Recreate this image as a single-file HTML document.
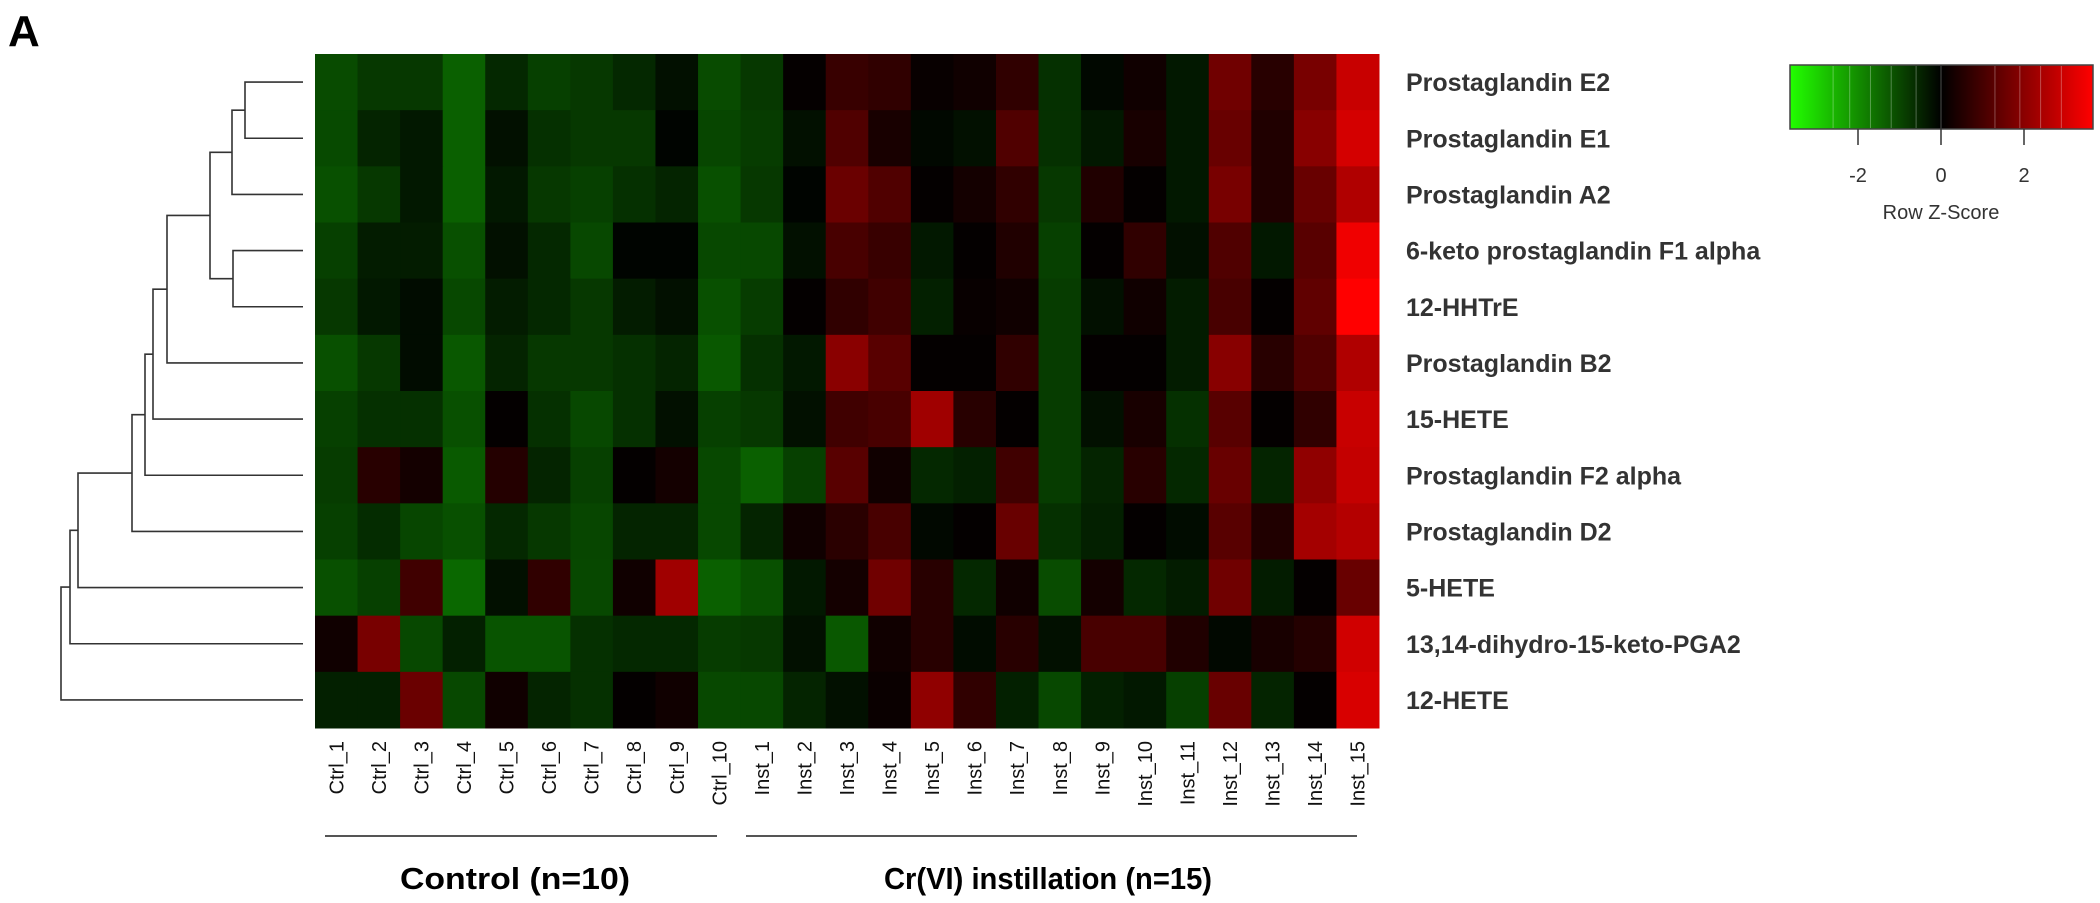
<!DOCTYPE html>
<html><head><meta charset="utf-8"><style>
html,body{margin:0;padding:0;background:#fff;}
svg{display:block;font-family:"Liberation Sans",Arial,sans-serif;}
</style></head><body>
<svg id="chart" width="2100" height="903" viewBox="0 0 2100 903" xmlns="http://www.w3.org/2000/svg">
<text x="8" y="46" font-size="44" font-weight="bold" fill="#000">A</text>
<g id="dendro"></g>
<g id="cells"></g>
<g id="rowlabels"></g>
<g id="collabels"></g>
<g>
<line x1="325" y1="836" x2="717" y2="836" stroke="#555" stroke-width="2"/>
<line x1="746" y1="836" x2="1357" y2="836" stroke="#555" stroke-width="2"/>
<text x="400" y="889" font-size="31" font-weight="bold" textLength="230" lengthAdjust="spacingAndGlyphs">Control (n=10)</text>
<text x="884" y="889" font-size="31" font-weight="bold" textLength="328" lengthAdjust="spacingAndGlyphs">Cr(VI)  instillation  (n=15)</text>
</g>
<g id="legend">
<defs><linearGradient id="grad" x1="0" x2="1" y1="0" y2="0">
<stop offset="0" stop-color="#22ff00"/><stop offset="0.5" stop-color="#000"/><stop offset="1" stop-color="#ff0000"/></linearGradient></defs>
<rect x="1790" y="65" width="303" height="64" fill="url(#grad)" stroke="#444" stroke-width="1.5"/>
</g>
</svg>
<script>
const rowNames=["Prostaglandin E2","Prostaglandin E1","Prostaglandin A2","6-keto prostaglandin F1 alpha","12-HHTrE","Prostaglandin B2","15-HETE","Prostaglandin F2 alpha","Prostaglandin D2","5-HETE","13,14-dihydro-15-keto-PGA2","12-HETE"];
const colNames=["Ctrl_1","Ctrl_2","Ctrl_3","Ctrl_4","Ctrl_5","Ctrl_6","Ctrl_7","Ctrl_8","Ctrl_9","Ctrl_10","Inst_1","Inst_2","Inst_3","Inst_4","Inst_5","Inst_6","Inst_7","Inst_8","Inst_9","Inst_10","Inst_11","Inst_12","Inst_13","Inst_14","Inst_15"];
const zPGE2=[-1.0,-0.75,-0.75,-1.28,-0.53,-0.85,-0.75,-0.53,-0.21,-1.0,-0.75,0.07,0.75,0.64,0.11,0.21,0.64,-0.64,-0.11,0.21,-0.32,1.49,0.53,1.6,2.67];
const zPGE1=[-0.99,-0.48,-0.32,-1.28,-0.21,-0.64,-0.75,-0.75,-0.05,-0.93,-0.8,-0.21,1.07,0.32,-0.11,-0.21,1.07,-0.64,-0.32,0.32,-0.32,1.39,0.43,1.81,2.83];
const zPGA2=[-1.07,-0.75,-0.32,-1.28,-0.32,-0.75,-0.85,-0.64,-0.48,-1.07,-0.75,-0.05,1.41,1.07,0.05,0.27,0.64,-0.75,0.43,0.05,-0.32,1.6,0.43,1.39,2.35];
const z6keto=[-0.85,-0.37,-0.37,-1.07,-0.21,-0.53,-0.96,-0.05,-0.05,-0.96,-0.96,-0.21,0.96,0.75,-0.32,0.05,0.43,-0.85,0.05,0.64,-0.21,1.07,-0.32,1.17,3.2];
const zHHTrE=[-0.75,-0.32,-0.16,-0.96,-0.37,-0.53,-0.75,-0.37,-0.21,-1.07,-0.8,0.05,0.64,0.85,-0.43,0.11,0.21,-0.8,-0.21,0.21,-0.37,0.96,0.05,1.28,3.4];
const zPGB2=[-1.07,-0.75,-0.16,-1.17,-0.48,-0.75,-0.75,-0.64,-0.48,-1.17,-0.64,-0.32,1.84,1.17,0.05,0.05,0.64,-0.8,0.05,0.05,-0.37,1.81,0.53,1.07,2.35];
const z15HETE=[-0.85,-0.64,-0.64,-1.07,0.05,-0.64,-0.96,-0.64,-0.21,-0.85,-0.75,-0.21,0.85,0.96,2.13,0.53,0.05,-0.8,-0.21,0.32,-0.64,1.17,0.05,0.64,2.67];
const zPGF2a=[-0.8,0.53,0.27,-1.2,0.48,-0.48,-0.85,0.05,0.27,-0.96,-1.28,-0.85,1.17,0.21,-0.53,-0.43,0.85,-0.8,-0.48,0.53,-0.53,1.39,-0.48,1.92,2.61];
const zPGD2=[-0.85,-0.59,-0.93,-1.07,-0.53,-0.75,-0.93,-0.48,-0.48,-0.96,-0.48,0.21,0.56,0.96,-0.11,0.05,1.39,-0.64,-0.43,0.05,-0.16,1.17,0.43,2.19,2.4];
const z5HETE=[-1.07,-0.85,0.85,-1.39,-0.21,0.64,-0.96,0.21,2.13,-1.28,-1.07,-0.32,0.27,1.49,0.53,-0.53,0.21,-1.01,0.27,-0.53,-0.37,1.49,-0.37,0.05,1.39];
const zPGA2keto=[0.21,1.6,-0.96,-0.43,-1.12,-1.12,-0.64,-0.53,-0.53,-0.8,-0.75,-0.21,-1.17,0.21,0.53,-0.16,0.53,-0.21,0.96,0.96,0.43,-0.11,0.32,0.48,2.77];
const z12HETE=[-0.43,-0.43,1.41,-0.96,0.21,-0.48,-0.64,0.05,0.21,-0.96,-0.96,-0.48,-0.21,0.13,1.92,0.64,-0.43,-0.96,-0.43,-0.32,-0.85,1.39,-0.48,0.05,2.88];
const zRows=[zPGE2,zPGE1,zPGA2,z6keto,zHHTrE,zPGB2,z15HETE,zPGF2a,zPGD2,z5HETE,zPGA2keto,z12HETE];
const legendTicks=[-2,0,2];
// dendrogram merges: [left, right, height]; leaves 0..11, internal nodes 12..
const merges=[[0,1,245],[12,2,232],[3,4,233],[13,14,210],[15,5,167],[16,6,153],[17,7,145],[18,8,132],[19,9,78],[20,10,70],[21,11,61]];

const NS="http://www.w3.org/2000/svg";
const X0=315,X1=1379,Y0=54,Y1=728;
const cw=(X1-X0)/colNames.length, rh=(Y1-Y0)/rowNames.length;
const xCol=i=>X0+i*cw, yRow=j=>Y0+j*rh;
function mk(t,a,p){const e=document.createElementNS(NS,t);for(const k in a)e.setAttribute(k,a[k]);p.appendChild(e);return e;}
function color(z){const v=Math.min(255,Math.round(Math.abs(z)*75));return z<0?`rgb(${Math.round(v*0.1)},${v},0)`:`rgb(${v},0,0)`;}
const cells=document.getElementById('cells');
zRows.forEach((row,j)=>row.forEach((z,i)=>{
  const r=mk('rect',{x:xCol(i),y:yRow(j),width:cw+0.5,height:rh+0.5,fill:color(z)},cells);
  
  
}));
const rl=document.getElementById('rowlabels');
rowNames.forEach((n,j)=>{
  const t=mk('text',{x:1406,y:yRow(j)+rh/2+9,'font-size':25,'font-weight':'bold',fill:'#333'},rl);
  t.textContent=n;
  
  
});
const cl=document.getElementById('collabels');
colNames.forEach((n,i)=>{
  const cx=xCol(i)+cw/2+7;
  const t=mk('text',{x:cx,y:741,'font-size':20,'text-anchor':'end',fill:'#111',transform:`rotate(-90 ${cx} 741)`},cl);
  t.textContent=n;
  
  
});
const dg=document.getElementById('dendro');
const nodes=[];for(let j=0;j<rowNames.length;j++)nodes.push({x:303,y:yRow(j)+rh/2});
merges.forEach(([a,b,h])=>{
  const A=nodes[a],B=nodes[b];
  const p=mk('path',{d:`M${A.x},${A.y}H${h}V${B.y}H${B.x}`,fill:'none',stroke:'#333','stroke-width':1.6},dg);
  
  
  nodes.push({x:h,y:(A.y+B.y)/2});
});
const lg=document.getElementById('legend');
const lx=z=>1941+z*41.5;
[-2.6,-2.2,-1.7,-1.2,-0.6,0,1.3,1.9,2.4,2.9].forEach(z=>{
  const l=mk('line',{x1:lx(z),x2:lx(z),y1:66,y2:128,stroke:'rgba(255,255,255,0.3)','stroke-width':1},lg);
  
  
});
legendTicks.forEach(v=>{
  const l=mk('line',{x1:lx(v),x2:lx(v),y1:129,y2:145,stroke:'#333','stroke-width':1.5},lg);
  
  
  const t=mk('text',{x:lx(v),y:182,'font-size':20,'text-anchor':'middle',fill:'#333'},lg);
  t.textContent=v;
  
  
});
const tt=mk('text',{x:1941,y:219,'font-size':20,'text-anchor':'middle',fill:'#333'},lg);
tt.textContent='Row Z-Score';


</script>
</body></html>
